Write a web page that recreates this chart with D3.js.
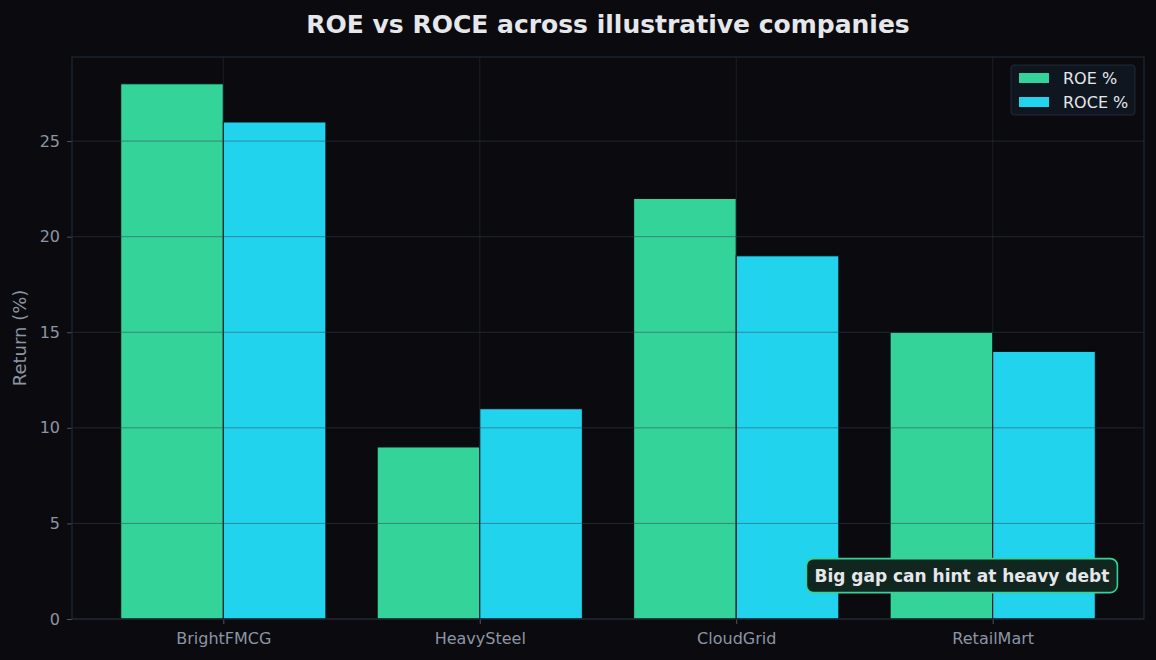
<!DOCTYPE html>
<html>
<head>
<meta charset="utf-8">
<script src="https://cdn.jsdelivr.net/npm/d3@7"></script>
<style>
  body { margin: 0; background: #0b0b0f; }
  text { font-family: "DejaVu Sans", sans-serif; }
</style>
</head>
<body>
<div id="chart"></div>
<script>
// data
var companies = ["BrightFMCG", "HeavySteel", "CloudGrid", "RetailMart"];
var roe = [28, 9, 22, 15];
var roce = [26, 11, 19, 14];
var yTicks = [0, 5, 10, 15, 20, 25];
var seriesNames = ["ROE %", "ROCE %"];
var seriesColors = ["#34d399", "#22d3ee"];

var W = 1156, H = 660;
var margin = {top: 57, right: 12, bottom: 41, left: 72},
    width = W - margin.left - margin.right,
    height = H - margin.top - margin.bottom;

const root = d3.select("#chart").append("svg")
    .attr("width", W).attr("height", H)
    .style("background", "#0b0b0f");

// title
root.append("text")
    .attr("x", 608).attr("y", 33)
    .attr("text-anchor", "middle")
    .style("font-size", "25px").style("font-weight", "bold")
    .style("fill", "#e5e7eb")
    .text("ROE vs ROCE across illustrative companies");

const svg = root.append("g")
    .attr("transform", `translate(${margin.left},${margin.top})`);

// x scale in "category units" like matplotlib
var barW = 0.4;
var xscale = d3.scaleLinear()
    .domain([-0.5 - 0.09, companies.length - 0.5 + 0.09])
    .range([0, width]);
var yscale = d3.scaleLinear()
    .domain([0, d3.max(roe.concat(roce)) * 1.05])
    .range([height, 0]);

// bars
var series = [roe, roce];
series.forEach(function(vals, s) {
    svg.selectAll(".bar" + s)
        .data(vals)
        .join("rect")
        .attr("class", "bar" + s)
        .attr("x", (d, i) => xscale(i + (s === 0 ? -barW : 0)))
        .attr("width", xscale(barW) - xscale(0))
        .attr("y", d => yscale(d))
        .attr("height", d => height - yscale(d))
        .attr("fill", seriesColors[s])
        .attr("stroke", "#0b0b0f")
        .attr("stroke-width", 1);
});

// grid (drawn above bars)
svg.append("g").selectAll("line.hg")
    .data(yTicks)
    .join("line")
    .attr("x1", 0).attr("x2", width)
    .attr("y1", d => yscale(d)).attr("y2", d => yscale(d))
    .attr("stroke", "#334155").attr("stroke-opacity", 0.5).attr("stroke-width", 1);
svg.append("g").selectAll("line.vg")
    .data(companies)
    .join("line")
    .attr("x1", (d, i) => xscale(i)).attr("x2", (d, i) => xscale(i))
    .attr("y1", 0).attr("y2", height)
    .attr("stroke", "#334155").attr("stroke-opacity", 0.35).attr("stroke-width", 1);

// axes
var yAxis = d3.axisLeft(yscale).tickValues(yTicks).tickSize(5).tickPadding(7);
var xAxis = d3.axisBottom(xscale).tickValues(d3.range(companies.length))
    .tickFormat(i => companies[i]).tickSize(5).tickPadding(9);

var gy = svg.append("g").call(yAxis);
var gx = svg.append("g").attr("transform", `translate(0,${height})`).call(xAxis);
[gx, gy].forEach(function(g) {
    g.select(".domain").remove();
    g.selectAll(".tick line").attr("stroke", "#4b5563");
    g.selectAll(".tick text").style("fill", "#8b95a5")
        .style("font-size", "16px").style("font-family", "DejaVu Sans, sans-serif");
});

// frame
svg.append("rect")
    .attr("x", 0).attr("y", 0).attr("width", width).attr("height", height)
    .attr("fill", "none").attr("stroke", "#1f2937").attr("stroke-width", 1.2);

// y label
svg.append("text")
    .attr("transform", "rotate(-90)")
    .attr("x", -height / 2).attr("y", -46)
    .attr("text-anchor", "middle")
    .style("font-size", "18px").style("fill", "#8b95a5")
    .text("Return (%)");

// legend
var lg = svg.append("g").attr("transform", `translate(${width - 133},8)`);
lg.append("rect")
    .attr("width", 124).attr("height", 50).attr("rx", 3)
    .attr("fill", "#0f1620").attr("stroke", "#1f2937");
seriesNames.forEach(function(n, i) {
    lg.append("rect").attr("x", 8).attr("y", 8 + i * 24)
        .attr("width", 30).attr("height", 10).attr("fill", seriesColors[i]);
    lg.append("text").attr("x", 52).attr("y", 19 + i * 24)
        .style("font-size", "16px").style("fill", "#e5e7eb").text(n);
});

// annotation
var ag = svg.append("g");
var ax = xscale(2.88), ay = yscale(2.27);
var at = ag.append("text")
    .attr("x", ax).attr("y", ay + 6)
    .attr("text-anchor", "middle")
    .style("font-size", "17px").style("font-weight", "bold")
    .style("fill", "#e5e7eb")
    .text("Big gap can hint at heavy debt");
var bb = at.node().getBBox();
ag.insert("rect", "text")
    .attr("x", bb.x - 8).attr("y", bb.y - 7)
    .attr("width", bb.width + 16).attr("height", bb.height + 14)
    .attr("rx", 7)
    .attr("fill", "#10261f").attr("stroke", "#34d399").attr("stroke-width", 1.6);
</script>
</body>
</html>
